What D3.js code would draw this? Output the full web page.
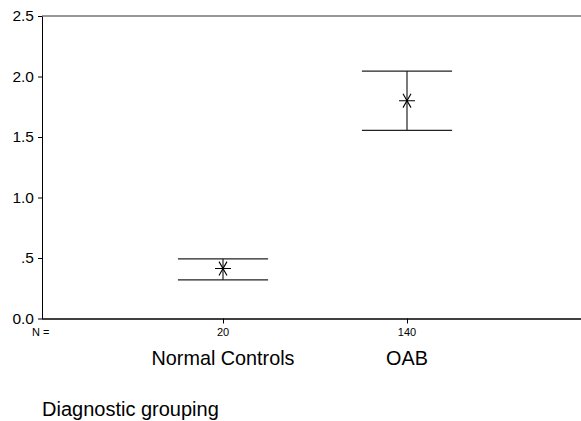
<!DOCTYPE html>
<html lang="en">
<head>
    <meta charset="UTF-8">
    <script src="https://d3js.org/d3.v7.min.js"></script>
    <title>Error bars</title>
    <style>
        body { margin: 0; background: #fff; }
        svg { display: block; font-family: "Liberation Sans", Arial, sans-serif; }
    </style>
</head>
<body>
    <div id="container"></div>
</body>
    <script>
        // 数据
        var groups = ["Normal Controls", "OAB"];
        var counts = [20, 140];
        var means = [0.413, 1.80];
        var lowers = [0.319, 1.555];
        var uppers = [0.493, 2.045];
        var yTicks = [0, 0.5, 1.0, 1.5, 2.0, 2.5];
        var yTickLabels = ["0.0", ".5", "1.0", "1.5", "2.0", "2.5"];

        var width = 581,
            height = 421,
            margin = {left: 42, top: 16, right: 0, bottom: 103};

        var rows = groups.map((g, i) => ({name: g, n: counts[i], mean: means[i], lo: lowers[i], hi: uppers[i]}));

        var svg = d3.select("#container").append("svg")
            .attr("width", width).attr("height", height);

        var y = d3.scaleLinear().domain([0, 2.5]).range([height - margin.bottom + 0.5, margin.top]);
        // 类别位置
        var x = d3.scalePoint().domain(groups).range([39, 591]).padding(1);

        // 上边框
        svg.append("line")
            .attr("x1", margin.left).attr("x2", width)
            .attr("y1", y(2.5)).attr("y2", y(2.5))
            .attr("stroke", "#333").attr("stroke-width", 1.2);

        // y轴
        var yAxis = svg.append("g")
            .attr("transform", `translate(${margin.left},0)`)
            .call(d3.axisLeft(y).tickValues(yTicks).tickSize(4).tickSizeOuter(0)
                .tickFormat((d, i) => yTickLabels[i]));
        yAxis.select(".domain").attr("stroke", "#000");
        yAxis.selectAll(".tick line").attr("stroke", "#000");
        yAxis.selectAll("text")
            .attr("font-family", "Liberation Sans, Arial, sans-serif")
            .attr("font-size", 15.5).attr("fill", "#000").attr("x", -8);

        // x轴
        var xAxis = svg.append("g")
            .attr("transform", `translate(0,${y(0)})`)
            .call(d3.axisBottom(x).tickSize(5).tickSizeOuter(0).tickFormat(""));
        xAxis.select(".domain").attr("d", `M${margin.left},0.5H${width}`).attr("stroke", "#000").attr("stroke-width", 1.3);
        xAxis.selectAll(".tick line").attr("stroke", "#000");

        // N = 标签
        svg.append("text")
            .attr("x", 32).attr("y", 336)
            .attr("font-size", 11)
            .text("N =");
        svg.selectAll(".nlab").data(rows).join("text")
            .attr("class", "nlab")
            .attr("x", d => x(d.name)).attr("y", 336)
            .attr("text-anchor", "middle").attr("font-size", 11)
            .text(d => d.n);

        // 类别名称
        svg.selectAll(".clab").data(rows).join("text")
            .attr("class", "clab")
            .attr("x", d => x(d.name)).attr("y", 365)
            .attr("text-anchor", "middle").attr("font-size", 19.8)
            .text(d => d.name);

        svg.append("text")
            .attr("x", 42).attr("y", 416)
            .attr("font-size", 20)
            .text("Diagnostic grouping");

        // 误差线
        var half = x.step() * 0.245;
        var bars = svg.append("g").attr("stroke", "#222").attr("stroke-width", 1.2).attr("fill", "none");
        bars.selectAll(".v").data(rows).join("line")
            .attr("x1", d => x(d.name)).attr("x2", d => x(d.name))
            .attr("y1", d => y(d.hi)).attr("y2", d => y(d.lo));
        bars.selectAll(".hi").data(rows).join("line")
            .attr("x1", d => x(d.name) - half).attr("x2", d => x(d.name) + half)
            .attr("y1", d => y(d.hi)).attr("y2", d => y(d.hi));
        bars.selectAll(".lo").data(rows).join("line")
            .attr("x1", d => x(d.name) - half).attr("x2", d => x(d.name) + half)
            .attr("y1", d => y(d.lo)).attr("y2", d => y(d.lo));

        // 均值星号
        svg.append("g").selectAll("path").data(rows).join("path")
            .attr("d", d3.symbol(d3.symbolAsterisk, 180))
            .attr("transform", d => `translate(${x(d.name)},${y(d.mean)}) rotate(90)`)
            .attr("fill", "none").attr("stroke", "#000").attr("stroke-width", 1.1);
    </script>
</html>
